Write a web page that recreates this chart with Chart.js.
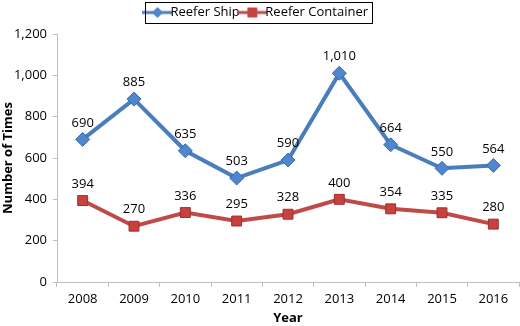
<!DOCTYPE html>
<html lang="en">
<head>
<meta charset="UTF-8">
<script src="https://cdn.jsdelivr.net/npm/chart.js@4.4.1/dist/chart.umd.min.js"></script>
<title>Reefer</title>
<style>
  body { margin: 0; background: #fff; }
</style>
</head>
<body>
<canvas id="myChart" width="520" height="326"></canvas>
<script>
const years = ['2008', '2009', '2010', '2011', '2012', '2013', '2014', '2015', '2016'];
const reeferShip = [690, 885, 635, 503, 590, 1010, 664, 550, 564];
const reeferContainer = [394, 270, 336, 295, 328, 400, 354, 335, 280];
const yTicks = [0, 200, 400, 600, 800, 1000, 1200];

const blue = '#4a7ebb';
const red = '#be4b48';
const font = "'Open Sans', sans-serif";

// little legend swatch: line with marker in the middle
function swatch(color, fill, shape) {
    const c = document.createElement('canvas');
    c.width = 30; c.height = 12;
    const g = c.getContext('2d');
    g.strokeStyle = color; g.lineWidth = 3;
    g.beginPath(); g.moveTo(0, 6); g.lineTo(30, 6); g.stroke();
    g.fillStyle = fill; g.strokeStyle = color; g.lineWidth = 1;
    g.beginPath();
    if (shape === 'diamond') {
        g.moveTo(15, 1); g.lineTo(20, 6); g.lineTo(15, 11); g.lineTo(10, 6); g.closePath();
    } else {
        g.rect(10.5, 1.5, 9, 9);
    }
    g.fill(); g.stroke();
    return c;
}

const valueLabels = {
    id: 'valueLabels',
    afterDatasetsDraw(chart) {
        const ctx = chart.ctx;
        ctx.save();
        ctx.font = '13px ' + font;
        ctx.fillStyle = '#000';
        ctx.textAlign = 'center';
        ctx.textBaseline = 'bottom';
        chart.data.datasets.forEach((ds, i) => {
            chart.getDatasetMeta(i).data.forEach((pt, j) => {
                ctx.fillText(ds.data[j].toLocaleString('en-US'), pt.x, pt.y - 10);
            });
        });
        ctx.restore();
    }
};

// legend border + a bit of room under it
const legendBox = {
    id: 'legendBox',
    beforeInit(chart) {
        const lg = chart.legend;
        const fit = lg.fit;
        lg.fit = function () { fit.call(this); this.height += 5; };
    },
    afterDraw(chart) {
        const l = chart.legend;
        const ctx = chart.ctx;
        const items = l.legendHitBoxes;
        if (!items.length) return;
        const x0 = items[0].left - 6;
        const last = items[items.length - 1];
        const x1 = last.left + last.width + 4;
        const y0 = items[0].top - 4;
        const y1 = items[0].top + items[0].height + 4;
        ctx.save();
        ctx.strokeStyle = '#000';
        ctx.lineWidth = 1;
        ctx.strokeRect(Math.round(x0) + 0.5, Math.round(y0) + 0.5, Math.round(x1 - x0), Math.round(y1 - y0));
        ctx.restore();
    }
};

// y title drawn by hand so it can sit at the far left edge
const yTitle = {
    id: 'yTitle',
    afterDraw(chart) {
        const a = chart.chartArea;
        const ctx = chart.ctx;
        ctx.save();
        ctx.translate(8, (a.top + a.bottom) / 2);
        ctx.rotate(-Math.PI / 2);
        ctx.font = 'bold 13px ' + font;
        ctx.fillStyle = '#000';
        ctx.textAlign = 'center';
        ctx.textBaseline = 'middle';
        ctx.fillText('Number of Times', 0, 0);
        ctx.restore();
    }
};

const ctx = document.getElementById('myChart').getContext('2d');
new Chart(ctx, {
    type: 'line',
    data: {
        labels: years,
        datasets: [{
            label: 'Reefer Ship',
            data: reeferShip,
            borderColor: blue,
            borderWidth: 4,
            pointStyle: 'rectRot',
            pointRadius: 7,
            pointBackgroundColor: '#4f86d0',
            pointBorderColor: '#3a6aa8',
            pointBorderWidth: 1,
            tension: 0
        }, {
            label: 'Reefer Container',
            data: reeferContainer,
            borderColor: red,
            borderWidth: 4,
            pointStyle: 'rect',
            pointRadius: 7,
            pointBackgroundColor: '#c9413d',
            pointBorderColor: '#9b302d',
            pointBorderWidth: 1,
            tension: 0
        }]
    },
    options: {
        responsive: false,
        animation: false,
        layout: { autoPadding: false, padding: { left: 0, right: 1, top: 0, bottom: 0 } },
        plugins: {
            legend: {
                position: 'top',
                labels: {
                    font: { family: font, size: 13 },
                    color: '#000',
                    usePointStyle: true,
                    padding: 6,
                    generateLabels(chart) {
                        return chart.data.datasets.map((ds, i) => ({
                            text: ds.label,
                            datasetIndex: i,
                            pointStyle: i === 0 ? swatch(blue, '#4f86d0', 'diamond') : swatch(red, '#c9413d', 'square'),
                            fillStyle: ds.borderColor,
                            strokeStyle: ds.borderColor,
                            lineWidth: 0
                        }));
                    }
                }
            },
            tooltip: { enabled: false }
        },
        scales: {
            x: {
                offset: true,
                afterFit(scale) { scale.height = 44; scale.paddingLeft = 0; scale.paddingRight = 0; },
                grid: { display: true, drawOnChartArea: false, drawTicks: true, tickLength: 5, color: '#bfbfbf', offset: true },
                border: { display: true, color: '#bfbfbf' },
                ticks: { font: { family: font, size: 13 }, color: '#000', padding: 4 },
                title: { display: true, text: 'Year', font: { family: font, size: 13, weight: 'bold' }, color: '#000', padding: { top: 0, bottom: 0 } }
            },
            y: {
                min: 0,
                max: 1200,
                afterBuildTicks(axis) { axis.ticks = yTicks.map(v => ({ value: v })); },
                afterFit(scale) { scale.width = 57; scale.paddingTop = 0; scale.paddingBottom = 0; },
                grid: { display: true, drawOnChartArea: false, drawTicks: true, tickLength: 4, color: '#bfbfbf' },
                border: { display: true, color: '#bfbfbf' },
                ticks: {
                    font: { family: font, size: 13 },
                    color: '#000',
                    padding: 6,
                    callback: v => v.toLocaleString('en-US')
                }
            }
        }
    },
    plugins: [valueLabels, legendBox, yTitle]
});
</script>
</body>
</html>
